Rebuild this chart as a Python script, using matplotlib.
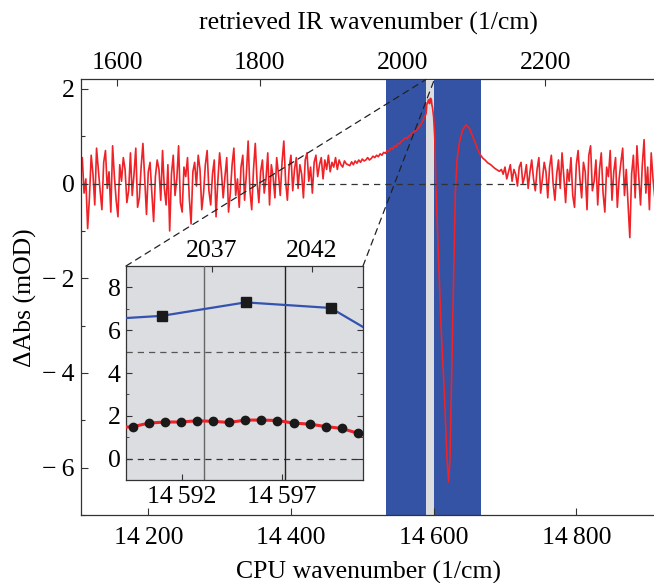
import numpy as np
import matplotlib
matplotlib.use('Agg')
import matplotlib.pyplot as plt
from matplotlib.patches import ConnectionPatch
from matplotlib.ticker import FuncFormatter, MultipleLocator, FixedLocator

plt.rcParams['font.family'] = ['Liberation Serif', 'DejaVu Serif']

# offset between CPU wavenumber and retrieved IR wavenumber (1/cm)
IR_OFFSET = 12556.5
FS = 18.5

# noisy baseline, left part: start 14105, step 2.5 (1/cm)
left_start, left_step = 14105.0, 2.5
left_vals = [
    0.35, 0.55, -0.20, 0.10, -0.95, -0.30, 0.60, 0.20, -0.45, 0.75,
    0.30, -0.15, -0.55, 0.45, 0.70, -0.10, 0.25, -0.60, 0.80, 0.15,
    -0.35, -0.70, 0.40, 0.05, 0.55, 0.30, -0.40, -0.15, 0.65, -0.25,
    0.20, 0.75, -0.50, -0.30, 0.35, 0.85, 0.10, -0.65, 0.25, 0.45,
    -0.20, -0.80, 0.15, 0.50, 0.30, -0.35, 0.70, -0.10, -0.45, 0.40,
    -1.00, 0.20, 0.60, -0.25, 0.10, 0.80, -0.40, -0.60, 0.35, 0.15,
    0.55, -0.30, -0.85, 0.25, 0.45, -0.05, 0.60, 0.30, -0.55, -0.20,
    0.40, 0.70, -0.15, -0.45, 0.20, 0.50, -0.70, 0.05, 0.65, 0.25,
    -0.30, 0.15, 0.55, -0.60, -0.20, 0.40, 0.75, -0.25, 0.10, -0.50,
    0.35, 0.60, -0.35, 0.20, 0.90, -0.15, -0.55, 0.30, 0.85, 0.05,
    -0.40, 0.25, 0.50, -0.20, 0.10, 0.65, -0.45, 0.40, 0.15, -0.30,
    0.55, 0.20, -0.25, 0.45, 0.90, 0.05, -0.35, 0.35, 0.60, -0.15,
    0.30, 0.55, -0.10, 0.40, 0.20, -0.30, 0.50, 0.65, 0.05, 0.35,
    -0.20, 0.45, 0.60, 0.15, 0.40, 0.55, 0.10, 0.50, 0.30, 0.60,
    0.25, 0.45, 0.35, 0.55, 0.30, 0.50, 0.40, 0.35, 0.48, 0.42,
    0.40,
]

# smooth resonance region (explicit points)
mid_x = [14482.5, 14485, 14487.5, 14490, 14492.5, 14495, 14497.5, 14500,
         14502.5, 14505, 14507.5, 14510, 14512.5, 14515, 14517.5, 14520,
         14522.5, 14525, 14527.5, 14530, 14532.5, 14535, 14537.5, 14540,
         14542.5, 14545, 14547.5, 14550, 14552.5, 14555, 14557.5, 14560,
         14562.5, 14565, 14567.5, 14570, 14572.5, 14575, 14577.5, 14580,
         14582.5, 14585, 14587.5, 14588.73,
         14589.53, 14590.35, 14591.15, 14591.95, 14592.75, 14593.55,
         14594.37, 14595.17, 14595.97, 14596.77, 14597.58, 14598.38,
         14599.18, 14599.98, 14600.78, 14601.58,
         14603.2, 14605.6, 14610.3, 14615.0, 14618.7, 14621.0, 14622.9,
         14624.8, 14626.7, 14628.5, 14630.4, 14632.8, 14636.0, 14640.7,
         14645.4, 14650.1, 14654.8, 14658.0, 14661.8, 14665.0, 14668.8,
         14672.0, 14675.8, 14680.0, 14685.2, 14688.0, 14692.2]
mid_y = [0.38, 0.46, 0.40, 0.48, 0.43, 0.50, 0.45, 0.52,
         0.48, 0.50, 0.55, 0.50, 0.53, 0.58, 0.55, 0.60,
         0.57, 0.63, 0.60, 0.66, 0.64, 0.70, 0.68, 0.75,
         0.73, 0.80, 0.78, 0.85, 0.84, 0.90, 0.92, 0.97,
         0.95, 1.00, 1.02, 1.06, 1.10, 1.12, 1.16, 1.20,
         1.26, 1.33, 1.43, 1.45,
         1.49, 1.66, 1.71, 1.71, 1.77, 1.74,
         1.69, 1.80, 1.80, 1.78, 1.66, 1.61,
         1.50, 1.41, 1.19, 0.97,
         -0.06, -1.04, -3.00, -4.41, -5.81, -6.30, -5.81,
         -4.41, -3.00, -1.60, -0.20, 0.50, 0.86, 1.14,
         1.24, 1.17, 0.99, 0.88, 0.72, 0.62, 0.54,
         0.50, 0.44, 0.40, 0.33, 0.30, 0.26]

# noisy baseline, right part: start 14695, step 2.5 (1/cm)
right_start, right_step = 14695.0, 2.5
right_vals = [
    0.30, 0.20, 0.35, 0.10, 0.25, 0.40, 0.05, 0.30, 0.20, -0.05,
    0.35, 0.45, 0.00, 0.15, 0.40, -0.10, 0.25, 0.50, 0.10, -0.15,
    0.30, 0.55, -0.20, 0.10, 0.45, 0.25, -0.30, 0.35, 0.60, 0.00,
    -0.35, 0.20, 0.50, -0.10, 0.65, 0.15, -0.40, 0.30, 0.05, 0.55,
    -0.25, -0.50, 0.40, 0.70, 0.10, -0.30, 0.45, 0.25, -0.55, 0.60,
    0.80, -0.15, 0.05, 0.50, -0.45, 0.30, 0.65, -0.20, -0.60, 0.35,
    0.15, 0.70, -0.35, 0.25, 0.55, -0.50, 0.10, 0.45, 0.75, -0.25,
    0.30, -0.40, -1.14, 0.20, 0.60, -0.30, 0.80, 0.15, -0.45, 0.40,
    0.93, -0.20, 0.35, -0.55, 0.65, 0.10, -0.30, 0.50,
]

left_x = left_start + left_step * np.arange(len(left_vals))
right_x = right_start + right_step * np.arange(len(right_vals))
cpu = np.concatenate([left_x, mid_x, right_x])
dabs = np.concatenate([left_vals, mid_y, right_vals])

# reference (blue) points shown in the inset
ref_x = [14586.77, 14590.98, 14595.18, 14599.43, 14603.6]
ref_y = [6.43, 6.67, 7.30, 7.04, 4.75]

# marker lines in the inset
inset_lines = [14593.1, 14597.15]

blue_bands = [(14533.0, 14589.2), (14601.05, 14666.5)]
inset_xlim = (14589.2, 14601.05)

RED = '#ee2227'
BAND = '#3453a4'
GRAY = '#dcdde0'
SPINE = '#333333'


def sep_fmt(v, pos):
    s = f'{int(round(v))}'
    if len(s) > 4:
        s = s[:-3] + '\u2009' + s[-3:]
    return s.replace('-', '\u2212\u2009')


def to_ir(x):
    return x - IR_OFFSET


def to_cpu(x):
    return x + IR_OFFSET


fig = plt.figure(figsize=(6.54, 5.83), dpi=100)
ax = fig.add_axes([80.5 / 654, 68 / 583, 575 / 654, 435.5 / 583])

for lo, hi in blue_bands:
    ax.axvspan(lo, hi, color=BAND, lw=0, zorder=1)
ax.axvspan(inset_xlim[0], inset_xlim[1], color=GRAY, lw=0, zorder=1)
ax.axhline(0, color='#333333', lw=0.9, ls=(0, (5, 4)), zorder=3)
ax.plot(cpu, dabs, color=RED, lw=1.2, zorder=2)

ax.set_xlim(14105, 14911)
ax.set_ylim(-7, 2.2)
ax.xaxis.set_major_locator(MultipleLocator(200))
ax.yaxis.set_major_locator(MultipleLocator(2))
ax.yaxis.set_minor_locator(MultipleLocator(1))
ax.xaxis.set_major_formatter(FuncFormatter(sep_fmt))
ax.yaxis.set_major_formatter(FuncFormatter(sep_fmt))
ax.tick_params(direction='in', labelsize=FS, length=5, width=0.8, pad=9,
               color=SPINE)
ax.tick_params(axis='y', which='minor', direction='in', length=3, width=0.8,
               color=SPINE)
ax.tick_params(axis='y', pad=4)
for sp in ax.spines.values():
    sp.set_linewidth(0.9)
    sp.set_color(SPINE)
ax.spines['top'].set_visible(False)
ax.set_xlabel('CPU wavenumber (1/cm)', fontsize=FS, labelpad=8)
ax.set_ylabel('\u0394Abs (mOD)', fontsize=FS, labelpad=4)

top = ax.secondary_xaxis('top', functions=(to_ir, to_cpu))
top.xaxis.set_major_locator(FixedLocator([1600, 1800, 2000, 2200]))
top.tick_params(direction='in', labelsize=FS, length=5, width=0.8, pad=4,
                color=SPINE)
top.spines['top'].set_linewidth(0.9)
top.spines['top'].set_color(SPINE)
top.set_xlabel('retrieved IR wavenumber (1/cm)', fontsize=FS, labelpad=16)

# inset
ins = fig.add_axes([126 / 654, 103 / 583, 237 / 654, 214 / 583], zorder=5)
ins.set_facecolor(GRAY)
ins.axhline(0, color='#333333', lw=0.9, ls=(0, (5, 4)))
ins.axhline(5, color='#555555', lw=0.9, ls=(0, (5, 4)))
ins.axvline(inset_lines[0], color='#666666', lw=1.0)
ins.axvline(inset_lines[1], color='#222222', lw=1.0)
ins.plot(ref_x, ref_y, color='#3452b0', lw=1.6, zorder=3)
ins.plot(ref_x, ref_y, 's', color='#1a1a1a', ms=7, zorder=4)
ins.plot(cpu, dabs, color=RED, lw=2.2, zorder=3)
ins.plot(cpu, dabs, 'o', color='#1a1a1a', ms=6, zorder=4)
ins.set_xlim(*inset_xlim)
ins.set_ylim(-1, 9)
ins.xaxis.set_major_locator(FixedLocator([14592, 14597]))
ins.xaxis.set_major_formatter(FuncFormatter(sep_fmt))
ins.yaxis.set_major_locator(MultipleLocator(2))
ins.yaxis.set_minor_locator(MultipleLocator(1))
ins.tick_params(direction='in', labelsize=FS, length=4, width=0.8, pad=4,
                right=True, color=SPINE)
ins.tick_params(axis='y', which='minor', direction='in', length=2.5,
                right=True, color=SPINE)
for sp in ins.spines.values():
    sp.set_linewidth(0.9)
    sp.set_color(SPINE)
ins.spines['top'].set_visible(False)
itop = ins.secondary_xaxis('top', functions=(to_ir, to_cpu))
itop.xaxis.set_major_locator(FixedLocator([2037, 2042]))
itop.tick_params(direction='in', labelsize=FS, length=4, width=0.8, pad=3,
                 color=SPINE)
itop.spines['top'].set_linewidth(0.9)
itop.spines['top'].set_color(SPINE)

# dashed connectors from inset corners to the zoomed band
for xa, xd in [(0, inset_xlim[0]), (1, inset_xlim[1])]:
    con = ConnectionPatch(xyA=(xa, 1), coordsA=ins.transAxes,
                          xyB=(xd, 2.2), coordsB=ax.transData,
                          color='#222222', lw=0.9, ls=(0, (5, 4)), zorder=4)
    fig.add_artist(con)

fig.savefig('out.png', dpi=100)
